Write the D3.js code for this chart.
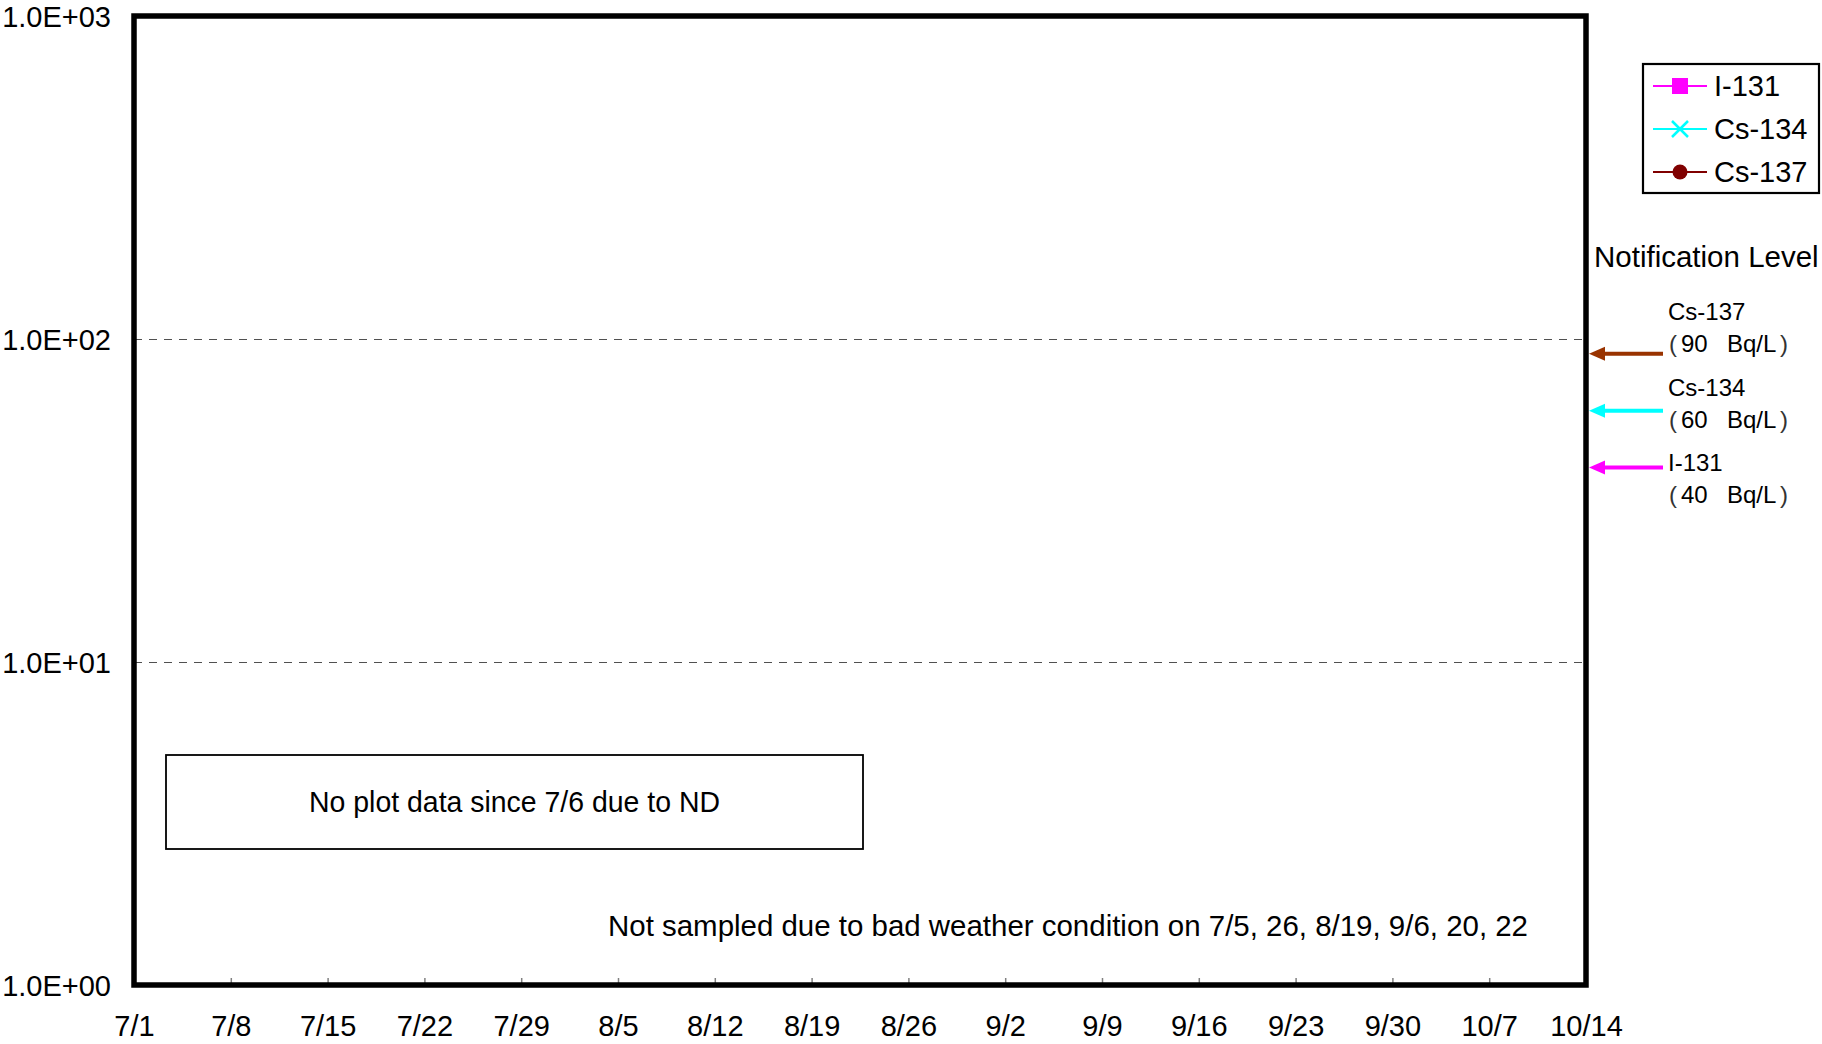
<!DOCTYPE html>
<html><head><meta charset="utf-8">
<script src="https://cdn.jsdelivr.net/npm/d3@7"></script>
<style>
html,body{margin:0;padding:0;background:#fff;}
svg text{font-family:"Liberation Sans",Arial,sans-serif;fill:#000;}
</style></head>
<body><svg id="chart" width="1822" height="1044"></svg>
<script>
// ---- data ----
const tickLabels = ["7/1","7/8","7/15","7/22","7/29","8/5","8/12","8/19","8/26","9/2","9/9","9/16","9/23","9/30","10/7","10/14"];
const tickDates = ["2011-07-01","2011-07-08","2011-07-15","2011-07-22","2011-07-29","2011-08-05","2011-08-12","2011-08-19","2011-08-26","2011-09-02","2011-09-09","2011-09-16","2011-09-23","2011-09-30","2011-10-07","2011-10-14"];
const yTicks = [1, 10, 100, 1000];
const yTickLabels = ["1.0E+00","1.0E+01","1.0E+02","1.0E+03"];
const seriesNames = ["I-131","Cs-134","Cs-137"];
const seriesColors = ["#FF00FF","#00FFFF","#800000"];
const i131Values = [];   // no plot data (ND)
const cs134Values = [];
const cs137Values = [];
const levelNames = ["Cs-137","Cs-134","I-131"];
const levelValues = [90, 60, 40];
const levelColors = ["#993300","#00FFFF","#FF00FF"];
const noteBoxText = "No plot data since 7/6 due to ND";
const noteText = "Not sampled due to bad weather condition on 7/5, 26, 8/19, 9/6, 20, 22";

// ---- layout ----
const svg = d3.select("#chart");
const L = 134, R = 1586, T = 16, B = 985;
const parse = d3.utcParse("%Y-%m-%d");
const x = d3.scaleUtc().domain([parse(tickDates[0]), parse(tickDates[tickDates.length-1])]).range([L, R]);
const y = d3.scaleLog().domain([1, 1000]).range([B, T]);

// gridlines
svg.append("g").selectAll("line").data([10, 100]).join("line")
  .attr("x1", L).attr("x2", R).attr("y1", d => y(d) + 0.5).attr("y2", d => y(d) + 0.5)
  .attr("stroke", "#505050").attr("stroke-width", 1).attr("stroke-dasharray", "8,7")
  .attr("shape-rendering", "crispEdges");

// x ticks (inside, upward)
const xAxis = d3.axisBottom(x).tickValues(tickDates.map(parse)).tickSize(-7)
  .tickFormat((d, i) => tickLabels[i]);
const gx = svg.append("g").attr("transform", `translate(0,${B})`).call(xAxis);
gx.select(".domain").remove();
gx.selectAll(".tick line").attr("stroke", "#808080").attr("stroke-width", 1.5);
gx.selectAll(".tick text").attr("y", 51).attr("dy", 0).attr("font-size", 29)
  .style("font-family", "'Liberation Sans',Arial,sans-serif").attr("fill", "#000");

// y labels
const yAxis = d3.axisLeft(y).tickValues(yTicks).tickSize(0).tickFormat((d, i) => yTickLabels[i]);
const gy = svg.append("g").attr("transform", `translate(${L},0)`).call(yAxis);
gy.select(".domain").remove();
gy.selectAll(".tick text").attr("x", -23).attr("dy", 10).attr("font-size", 29)
  .style("font-family", "'Liberation Sans',Arial,sans-serif").attr("fill", "#000");

// series (empty)
const series = [i131Values, cs134Values, cs137Values];
const line = d3.line().x(d => x(parse(d.date))).y(d => y(d.value));
series.forEach((s, i) => {
  svg.append("path").datum(s).attr("d", line).attr("fill", "none").attr("stroke", seriesColors[i]).attr("stroke-width", 2);
});

// plot frame
svg.append("rect").attr("x", L).attr("y", T).attr("width", R - L).attr("height", B - T)
  .attr("fill", "none").attr("stroke", "#000").attr("stroke-width", 5.5);

// note box
svg.append("rect").attr("x", 166).attr("y", 755).attr("width", 697).attr("height", 94)
  .attr("fill", "none").attr("stroke", "#000").attr("stroke-width", 1.8);
svg.append("text").attr("x", 309).attr("y", 812).attr("font-size", 29.5)
  .attr("textLength", 411).attr("lengthAdjust", "spacingAndGlyphs").text(noteBoxText);
svg.append("text").attr("x", 608).attr("y", 936).attr("font-size", 29.5)
  .attr("textLength", 920).attr("lengthAdjust", "spacingAndGlyphs").text(noteText);

// legend
const lg = svg.append("g");
lg.append("rect").attr("x", 1643).attr("y", 64).attr("width", 176).attr("height", 129)
  .attr("fill", "#fff").attr("stroke", "#000").attr("stroke-width", 2.2);
seriesNames.forEach((n, i) => {
  const cy = 86 + i * 43;
  lg.append("line").attr("x1", 1653).attr("x2", 1707).attr("y1", cy).attr("y2", cy)
    .attr("stroke", seriesColors[i]).attr("stroke-width", 2);
  if (i === 0) lg.append("rect").attr("x", 1672).attr("y", cy - 8).attr("width", 16).attr("height", 16).attr("fill", seriesColors[i]);
  if (i === 1) lg.append("path").attr("d", `M${1672},${cy-8}L${1688},${cy+8}M${1672},${cy+8}L${1688},${cy-8}`)
    .attr("stroke", seriesColors[i]).attr("stroke-width", 2.5);
  if (i === 2) lg.append("circle").attr("cx", 1680).attr("cy", cy).attr("r", 7.5).attr("fill", seriesColors[i]);
  lg.append("text").attr("x", 1714).attr("y", cy + 10).attr("font-size", 29).text(n);
});

// notification levels
svg.append("text").attr("x", 1594).attr("y", 267).attr("font-size", 29.5).text("Notification Level");
levelValues.forEach((v, i) => {
  const yy = y(v);
  svg.append("line").attr("x1", 1602).attr("x2", 1663).attr("y1", yy).attr("y2", yy)
    .attr("stroke", levelColors[i]).attr("stroke-width", 4);
  svg.append("path").attr("d", `M1589,${yy}L1605,${yy-7}L1605,${yy+7}Z`).attr("fill", levelColors[i]);
  const by = 320 + i * 75.5;
  svg.append("text").attr("x", 1668).attr("y", by).attr("font-size", 24).text(levelNames[i]);
  const t = svg.append("text").attr("x", 1669).attr("y", by + 32).attr("font-size", 24);
  t.append("tspan").attr("fill", "#333").text("(");
  t.append("tspan").attr("x", 1681).text(String(v));
  t.append("tspan").attr("x", 1727).text("Bq/L");
  t.append("tspan").attr("x", 1780).attr("fill", "#333").text(")");
});
</script></body></html>
